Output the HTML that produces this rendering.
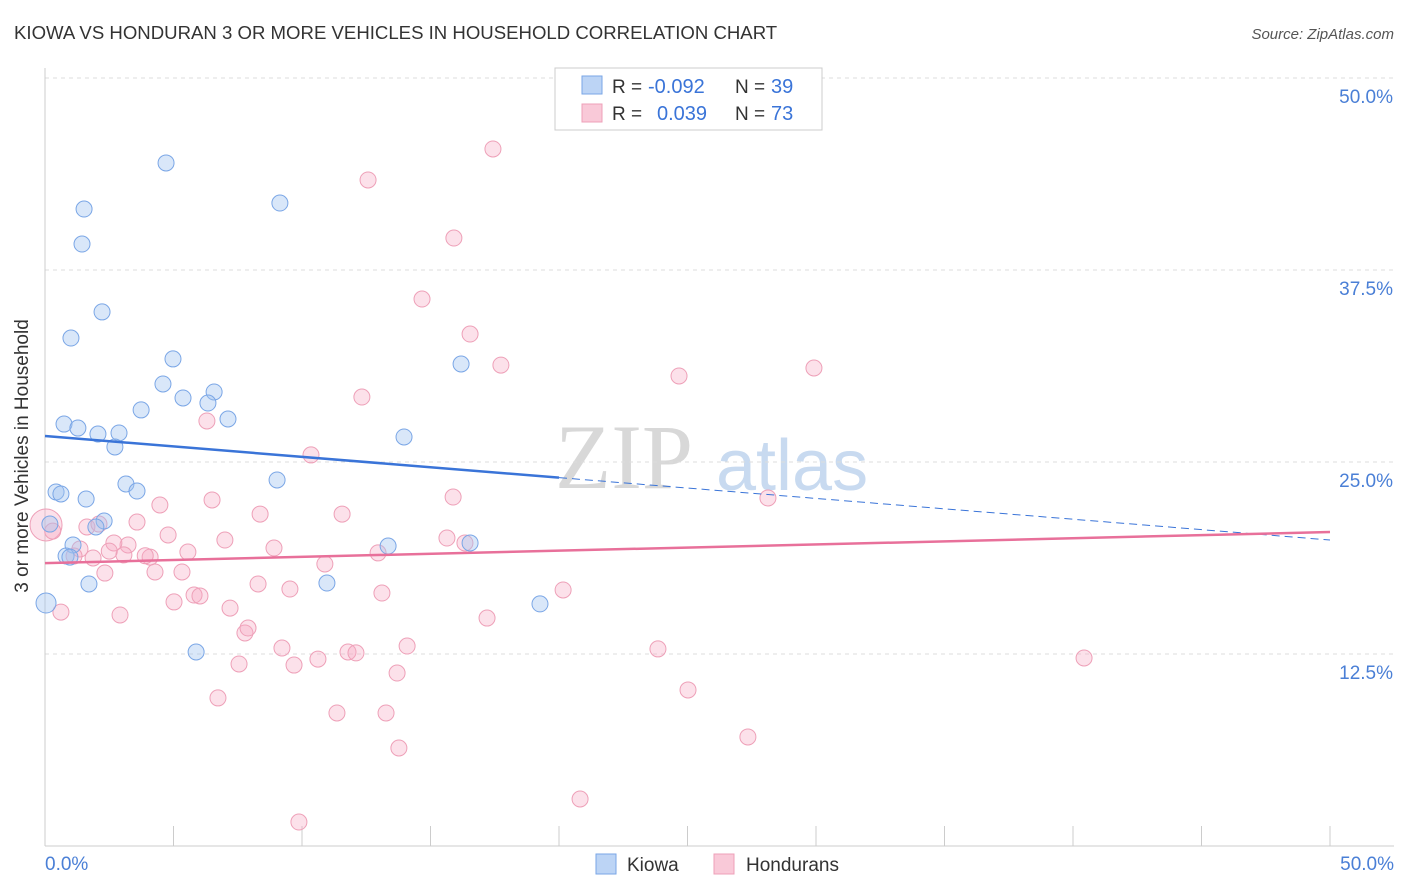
<!DOCTYPE html>
<html><head><meta charset="utf-8"><style>
body{margin:0;background:#fff;font-family:"Liberation Sans",sans-serif;}
svg{display:block}
</style></head><body>
<svg id="chart" width="1406" height="892">
<text x="14" y="39" font-size="18.6" fill="#333">KIOWA VS HONDURAN 3 OR MORE VEHICLES IN HOUSEHOLD CORRELATION CHART</text>
<text x="1394" y="39" font-size="15" fill="#555" text-anchor="end" font-style="italic">Source: ZipAtlas.com</text>
<g>
<text x="555" y="488" font-size="92" font-family="Liberation Serif,serif" fill="#d8d8d8">ZIP</text>
<text x="716" y="490" font-size="72" fill="#c8daf0">atlas</text>
</g>
<g id="grid"></g>
<line x1="45" y1="68" x2="45" y2="846" stroke="#ccc"/>
<line x1="45" y1="846" x2="1394" y2="846" stroke="#ccc"/>
<text x="28" y="456" font-size="19" fill="#333" text-anchor="middle" transform="rotate(-90 28 456)">3 or more Vehicles in Household</text>
<text x="45" y="870" font-size="19" fill="#4a7fd6">0.0%</text>
<text x="1394" y="870" font-size="19" fill="#4a7fd6" text-anchor="end">50.0%</text>
<g id="points"></g>
<g id="lines"></g>
<g>
<rect x="555" y="68" width="267" height="62" fill="#fff" stroke="#ccc"/>
<rect x="582" y="76" width="20" height="18" fill="#bcd4f5" stroke="#7aa6e6"/>
<rect x="582" y="104" width="20" height="18" fill="#f9c9d8" stroke="#eea0b8"/>
<text x="612" y="93" font-size="19" fill="#333">R =</text>
<text x="648" y="93" font-size="20" fill="#3a74d8">-0.092</text>
<text x="735" y="93" font-size="19" fill="#333">N =</text>
<text x="771" y="93" font-size="20" fill="#3a74d8">39</text>
<text x="612" y="120" font-size="19" fill="#333">R =</text>
<text x="657" y="120" font-size="20" fill="#3a74d8">0.039</text>
<text x="735" y="120" font-size="19" fill="#333">N =</text>
<text x="771" y="120" font-size="20" fill="#3a74d8">73</text>
</g>
<g>
<rect x="596" y="854" width="20" height="20" fill="#bcd4f5" stroke="#7aa6e6"/>
<text x="627" y="871" font-size="19" fill="#333">Kiowa</text>
<rect x="714" y="854" width="20" height="20" fill="#f9c9d8" stroke="#eea0b8"/>
<text x="746" y="871" font-size="19" fill="#333">Hondurans</text>
</g>
</svg>
<script>
const yTicks=[12.5,25,37.5,50];
const yTickLabels=["12.5%","25.0%","37.5%","50.0%"];
const xTicks=[0,5,10,15,20,25,30,35,40,45,50];
const kiowaX=[4.71,1.52,1.44,9.14,2.22,1.01,4.98,4.59,5.37,6.58,6.34,3.74,7.12,0.74,1.28,2.06,2.88,2.72,13.97,16.19,3.15,3.58,0.43,0.62,1.60,9.03,0.19,2.30,1.98,1.09,0.82,0.97,1.71,10.97,13.35,16.54,19.26,0.04,5.88];
const kiowaY=[44.47,41.47,39.19,41.86,34.77,33.07,31.71,30.08,29.17,29.56,28.84,28.39,27.80,27.47,27.21,26.82,26.89,25.98,26.63,31.38,23.57,23.11,23.05,22.92,22.59,23.83,20.96,21.16,20.77,19.60,18.88,18.81,17.06,17.12,19.53,19.73,15.76,15.82,12.63];
const hondX=[17.43,12.57,15.91,14.67,16.54,17.74,24.67,29.92,12.33,6.30,10.35,15.88,28.13,6.50,4.47,8.37,11.56,3.58,1.63,2.10,0.04,4.79,7.00,15.64,16.34,1.36,3.23,2.68,8.91,5.56,12.96,3.07,1.87,4.09,1.13,10.89,2.33,4.28,5.33,8.29,9.53,13.11,20.16,5.80,6.03,5.02,7.20,2.92,0.62,17.20,7.78,7.90,9.22,14.09,11.79,12.10,23.85,10.62,9.69,7.55,40.43,13.70,25.02,6.73,11.36,13.27,13.77,27.35,20.82,9.88,0.3,2.5,3.9];
const hondY=[45.38,43.36,39.58,35.61,33.33,31.31,30.60,31.12,29.23,27.67,25.46,22.72,22.66,22.53,22.20,21.61,21.61,21.09,20.77,20.96,20.90,20.25,19.92,20.05,19.73,19.34,19.60,19.73,19.40,19.14,19.08,18.95,18.75,18.81,18.88,18.36,17.77,17.84,17.84,17.06,16.73,16.47,16.67,16.34,16.28,15.89,15.49,15.04,15.23,14.84,13.87,14.19,12.89,13.02,12.63,12.57,12.83,12.17,11.78,11.85,12.24,11.26,10.16,9.64,8.66,8.66,6.38,7.10,3.06,1.56,20.5,19.2,18.9];
const kiowaTrend=[26.69,19.92];
const hondTrend=[18.42,20.44];
const NS="http://www.w3.org/2000/svg";
const X=v=>45+v*25.7, Y=v=>846-v*15.36;
function mk(t,a,p){const e=document.createElementNS(NS,t);for(const k in a)e.setAttribute(k,a[k]);p.appendChild(e);return e;}
const grid=document.getElementById('grid');
yTicks.forEach((t,i)=>{
 const l=mk('line',{x1:45,x2:1394,y1:Y(t),y2:Y(t),stroke:'#ddd','stroke-dasharray':'4,4'},grid);
 
 
 const tx=mk('text',{x:1393,y:Y(t)+25,'font-size':19,fill:'#4a7fd6','text-anchor':'end'},grid);
 tx.textContent=yTickLabels[i];
 
 
});
xTicks.forEach(t=>{
 const l=mk('line',{x1:X(t),x2:X(t),y1:826,y2:846,stroke:'#ccc'},grid);
 
 
});
const pts=document.getElementById('points');
hondX.forEach((x,i)=>{
 const r=(i===20)?16:8;
 const c=mk('circle',{cx:X(x),cy:Y(hondY[i]),r:r,fill:'rgba(245,170,195,0.35)',stroke:'#eea0b8','stroke-width':1},pts);
 
 
});
kiowaX.forEach((x,i)=>{
 const r=(i===37)?10:8;
 const c=mk('circle',{cx:X(x),cy:Y(kiowaY[i]),r:r,fill:'rgba(160,195,240,0.4)',stroke:'#7aa6e6','stroke-width':1},pts);
 
 
});
const lines=document.getElementById('lines');
const kAt=x=>kiowaTrend[0]+(kiowaTrend[1]-kiowaTrend[0])*x/50;
let l1=mk('line',{x1:X(0),y1:Y(kAt(0)),x2:X(20),y2:Y(kAt(20)),stroke:'#3a74d8','stroke-width':2.5},lines);


let l2=mk('line',{x1:X(20),y1:Y(kAt(20)),x2:X(50),y2:Y(kAt(50)),stroke:'#3a74d8','stroke-width':1,'stroke-dasharray':'8,5'},lines);


let l3=mk('line',{x1:X(0),y1:Y(hondTrend[0]),x2:X(50),y2:Y(hondTrend[1]),stroke:'#e8709a','stroke-width':2.5},lines);


</script>
</body></html>
